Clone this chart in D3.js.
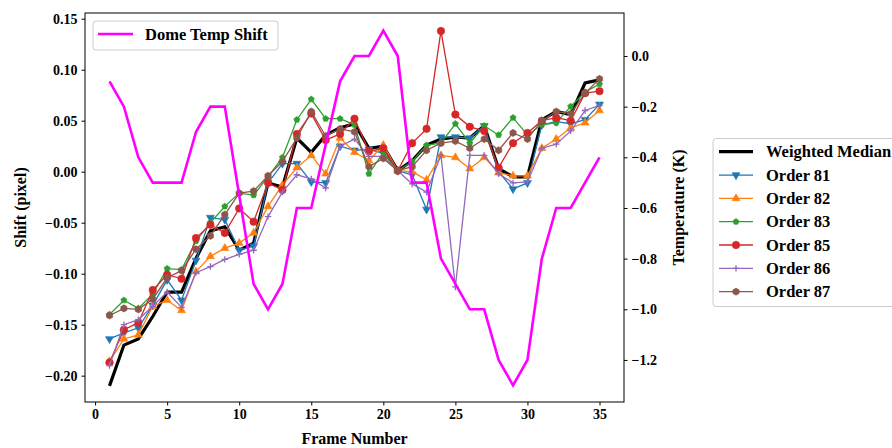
<!DOCTYPE html>
<html>
<head>
<meta charset="utf-8">
<script src="https://cdn.jsdelivr.net/npm/d3@7"></script>
<style>
  body { margin: 0; background: #fff; }
  text { font-family: "Liberation Serif", "Times New Roman", serif; font-weight: bold; }
</style>
</head>
<body>
<svg id="chart" width="892" height="448"></svg>
<script>
// frame numbers
const frames = [1, 2, 3, 4, 5, 6, 7, 8, 9, 10, 11, 12, 13, 14, 15, 16, 17, 18,
  19, 20, 21, 22, 23, 24, 25, 26, 27, 28, 29, 30, 31, 32, 33, 34, 35];

// dome temperature (K), right axis
const domeTemp = [-0.1, -0.2, -0.4, -0.5, -0.5, -0.5, -0.3, -0.2, -0.2, -0.55, -0.9, -1.0,
  -0.9, -0.6, -0.6, -0.35, -0.1, 0.0, 0.0, 0.1, 0.0, -0.5, -0.5, -0.8, -0.9, -1.0, -1.0,
  -1.2, -1.3, -1.2, -0.8, -0.6, -0.6, -0.5, -0.4];

// shifts (pixel), left axis
const weightedMedian = [-0.21, -0.17, -0.164, -0.142, -0.118, -0.118, -0.085, -0.058, -0.054,
  -0.077, -0.07, -0.011, -0.015, 0.033, 0.019, 0.036, 0.043, 0.047, 0.023, 0.025, 0.001,
  0.011, 0.026, 0.032, 0.034, 0.033, 0.045, 0.003, -0.005, -0.005, 0.051, 0.059, 0.056,
  0.087, 0.09];
const order81 = [-0.164, -0.158, -0.153, -0.131, -0.106, -0.126, -0.087, -0.045, -0.047,
  -0.077, -0.073, -0.011, 0.008, 0.008, -0.01, -0.011, 0.025, 0.021, 0.022, 0.018, 0.001,
  -0.003, -0.037, 0.034, 0.034, 0.033, 0.045, 0.0, -0.017, -0.011, 0.046, 0.049, 0.047,
  0.051, 0.066];
const order82 = [-0.186, -0.164, -0.16, -0.132, -0.126, -0.136, -0.098, -0.083, -0.075,
  -0.07, -0.06, -0.034, -0.013, 0.004, 0.016, -0.002, 0.033, 0.019, 0.011, 0.026, 0.001,
  0.0, -0.008, 0.016, 0.014, 0.003, 0.014, -0.001, -0.004, -0.004, 0.023, 0.032, 0.043,
  0.048, 0.06];
const order83 = [-0.14, -0.126, -0.134, -0.12, -0.095, -0.096, -0.068, -0.05, -0.034,
  -0.021, -0.023, -0.005, 0.014, 0.051, 0.071, 0.052, 0.052, 0.046, -0.002, 0.019, 0.001,
  0.01, 0.026, 0.028, 0.047, 0.028, 0.045, 0.036, 0.053, 0.036, 0.046, 0.048, 0.064,
  0.078, 0.086];
const order85 = [-0.187, -0.155, -0.148, -0.116, -0.101, -0.105, -0.065, -0.052, -0.06,
  -0.036, -0.049, -0.011, -0.018, 0.037, 0.057, 0.031, 0.037, 0.052, 0.02, 0.023, 0.001,
  0.028, 0.042, 0.138, 0.056, 0.044, 0.04, 0.004, 0.028, 0.038, 0.05, 0.053, 0.05,
  0.077, 0.079];
const order86 = [-0.19, -0.15, -0.145, -0.132, -0.118, -0.133, -0.099, -0.093, -0.086,
  -0.081, -0.077, -0.044, -0.02, -0.003, -0.007, -0.016, 0.025, 0.032, 0.015, 0.015, 0.001,
  -0.012, -0.02, 0.016, -0.113, 0.016, 0.016, -0.002, -0.011, -0.01, 0.023, 0.027, 0.04,
  0.06, 0.065];
const order87 = [-0.141, -0.134, -0.135, -0.125, -0.104, -0.097, -0.076, -0.063, -0.042,
  -0.021, -0.019, -0.004, 0.01, 0.033, 0.059, 0.035, 0.042, 0.039, 0.005, 0.013, 0.001,
  0.005, 0.021, 0.028, 0.03, 0.023, 0.032, 0.021, 0.038, 0.032, 0.05, 0.059, 0.057,
  0.077, 0.091];

const xTicks = [0, 5, 10, 15, 20, 25, 30, 35];
const shiftTicks = [-0.2, -0.15, -0.1, -0.05, 0, 0.05, 0.1, 0.15];
const tempTicks = [-1.2, -1.0, -0.8, -0.6, -0.4, -0.2, 0.0];

const orders = [
  {name: 'Order 81', values: order81, color: '#1f77b4', marker: 'tri_down'},
  {name: 'Order 82', values: order82, color: '#ff7f0e', marker: 'tri_up'},
  {name: 'Order 83', values: order83, color: '#2ca02c', marker: 'pentagon'},
  {name: 'Order 85', values: order85, color: '#d62728', marker: 'circle'},
  {name: 'Order 86', values: order86, color: '#9467bd', marker: 'plus'},
  {name: 'Order 87', values: order87, color: '#8c564b', marker: 'hexagon'}
];

const plot = {left: 85, top: 13, right: 624, bottom: 402};
const svg = d3.select('#chart');
svg.append('rect').attr('width', 892).attr('height', 448).attr('fill', '#fff');

const x = d3.scaleLinear().domain([-0.7, 36.7]).range([plot.left, plot.right]);
const y = d3.scaleLinear().domain([-0.2258, 0.1556]).range([plot.bottom, plot.top]);
const yT = d3.scaleLinear().domain([-1.366, 0.1698]).range([plot.bottom, plot.top]);

function polygon(n, r, rot) {
  const pts = d3.range(n).map(i => {
    const a = rot + i * 2 * Math.PI / n;
    return [r * Math.sin(a), -r * Math.cos(a)];
  });
  return 'M' + pts.map(p => p.join(',')).join('L') + 'Z';
}
function markerPath(kind) {
  switch (kind) {
    case 'tri_down': return polygon(3, 4.6, Math.PI);
    case 'tri_up': return polygon(3, 4.6, 0);
    case 'pentagon': return polygon(5, 3.2, 0);
    case 'circle': return d3.symbol(d3.symbolCircle, 44)();
    case 'hexagon': return polygon(6, 3.6, 0);
    case 'plus': return 'M-3.2,0L3.2,0M0,-3.2L0,3.2';
  }
}
function drawMarker(g, kind, color) {
  const p = g.append('path').attr('d', markerPath(kind));
  if (kind === 'plus') p.attr('fill', 'none').attr('stroke', color).attr('stroke-width', 1.3);
  else p.attr('fill', color).attr('stroke', color).attr('stroke-width', 0.6);
}

const lineShift = d3.line().x((d, i) => x(frames[i])).y(d => y(d));
const lineTemp = d3.line().x((d, i) => x(frames[i])).y(d => yT(d));

svg.append('clipPath').attr('id', 'clip').append('rect')
  .attr('x', plot.left).attr('y', plot.top)
  .attr('width', plot.right - plot.left).attr('height', plot.bottom - plot.top);
const content = svg.append('g').attr('clip-path', 'url(#clip)');

// weighted median
content.append('path').attr('d', lineShift(weightedMedian))
  .attr('fill', 'none').attr('stroke', '#000').attr('stroke-width', 3.2);

// individual orders
orders.forEach(o => {
  content.append('path').attr('d', lineShift(o.values))
    .attr('fill', 'none').attr('stroke', o.color).attr('stroke-width', 1.3);
  o.values.forEach((v, i) => {
    const g = content.append('g').attr('transform', `translate(${x(frames[i])},${y(v)})`);
    drawMarker(g, o.marker, o.color);
  });
});

// dome temperature
content.append('path').attr('d', lineTemp(domeTemp))
  .attr('fill', 'none').attr('stroke', '#ff00ff').attr('stroke-width', 2.6);

// axes
const fmt2 = d3.format('.2f');
const fmt1 = d3.format('.1f');
svg.append('g').attr('transform', `translate(0,${plot.bottom})`)
  .call(d3.axisBottom(x).tickValues(xTicks).tickSize(3.5).tickPadding(4).tickSizeOuter(0))
  .call(g => g.select('.domain').remove())
  .call(g => g.selectAll('text').attr('font-size', 14).attr('fill', '#000'));
svg.append('g').attr('transform', `translate(${plot.left},0)`)
  .call(d3.axisLeft(y).tickValues(shiftTicks).tickFormat(fmt2).tickSize(3.5).tickPadding(4).tickSizeOuter(0))
  .call(g => g.select('.domain').remove())
  .call(g => g.selectAll('text').attr('font-size', 14).attr('fill', '#000'));
svg.append('g').attr('transform', `translate(${plot.right},0)`)
  .call(d3.axisRight(yT).tickValues(tempTicks).tickFormat(fmt1).tickSize(3.5).tickPadding(4).tickSizeOuter(0))
  .call(g => g.select('.domain').remove())
  .call(g => g.selectAll('text').attr('font-size', 14).attr('fill', '#000'));
svg.selectAll('.tick line').attr('stroke', '#000').attr('stroke-width', 1);

svg.append('rect').attr('x', plot.left).attr('y', plot.top)
  .attr('width', plot.right - plot.left).attr('height', plot.bottom - plot.top)
  .attr('fill', 'none').attr('stroke', '#000').attr('stroke-width', 1);

// axis titles
svg.append('text').attr('x', (plot.left + plot.right) / 2).attr('y', 444)
  .attr('text-anchor', 'middle').attr('font-size', 16).text('Frame Number');
svg.append('text').attr('transform', `translate(26,${(plot.top + plot.bottom) / 2}) rotate(-90)`)
  .attr('text-anchor', 'middle').attr('font-size', 16).text('Shift (pixel)');
svg.append('text').attr('transform', `translate(684,${(plot.top + plot.bottom) / 2}) rotate(-90)`)
  .attr('text-anchor', 'middle').attr('font-size', 16).text('Temperature (K)');

// legend: temperature
const leg1 = svg.append('g');
leg1.append('rect').attr('x', 93).attr('y', 21).attr('width', 185).attr('height', 29).attr('rx', 3)
  .attr('fill', '#fff').attr('fill-opacity', 0.8).attr('stroke', '#ccc');
leg1.append('line').attr('x1', 98).attr('x2', 133).attr('y1', 34).attr('y2', 34)
  .attr('stroke', '#ff00ff').attr('stroke-width', 2.6);
leg1.append('text').attr('x', 145).attr('y', 40).attr('font-size', 16.5).text('Dome Temp Shift');

// legend: shifts
const leg2 = svg.append('g');
leg2.append('rect').attr('x', 713).attr('y', 138.5).attr('width', 190).attr('height', 168).attr('rx', 3)
  .attr('fill', '#fff').attr('fill-opacity', 0.8).attr('stroke', '#ccc');
const rowY = i => 151.7 + i * 23.33;
leg2.append('line').attr('x1', 719).attr('x2', 753).attr('y1', rowY(0)).attr('y2', rowY(0))
  .attr('stroke', '#000').attr('stroke-width', 3.2);
leg2.append('text').attr('x', 766).attr('y', rowY(0) + 5.5).attr('font-size', 16.5).text('Weighted Median');
orders.forEach((o, i) => {
  const yy = rowY(i + 1);
  leg2.append('line').attr('x1', 719).attr('x2', 753).attr('y1', yy).attr('y2', yy)
    .attr('stroke', o.color).attr('stroke-width', 1.3);
  drawMarker(leg2.append('g').attr('transform', `translate(736,${yy})`), o.marker, o.color);
  leg2.append('text').attr('x', 766).attr('y', yy + 5.5).attr('font-size', 16.5).text(o.name);
});
</script>
</body>
</html>
